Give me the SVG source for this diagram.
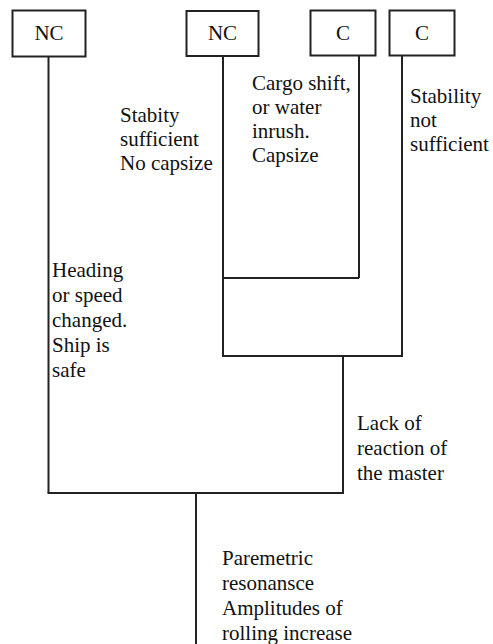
<svg xmlns="http://www.w3.org/2000/svg" width="493" height="644" viewBox="0 0 493 644">
<style>
.box{fill:#fff;stroke:#222;stroke-width:2}
.ln{fill:none;stroke:#222;stroke-width:2}
text{font-size:21px;fill:#111}
.c{text-anchor:middle}
</style>
<rect width="493" height="644" fill="#fff"/>
<g id="connectors">
<path class="ln" d="M48.5 57V493"/>
<path class="ln" d="M223 56V356"/>
<path class="ln" d="M359 55V278"/>
<path class="ln" d="M223 278H359"/>
<path class="ln" d="M402 55V356"/>
<path class="ln" d="M222 356H403"/>
<path class="ln" d="M343 356V493"/>
<path class="ln" d="M47.5 493H344"/>
<path class="ln" d="M196 493V644"/>
</g>
<g font-family="Liberation Serif, DejaVu Serif, Times New Roman, serif">
<g id="nc1"><rect class="box" x="12.5" y="10.5" width="73" height="46"/><text class="c" x="49" y="40">NC</text></g>
<g id="nc2"><rect class="box" x="186.5" y="11" width="72" height="45"/><text class="c" x="222.5" y="40">NC</text></g>
<g id="c1"><rect class="box" x="310.5" y="10.5" width="65" height="45"/><text class="c" x="343" y="40">C</text></g>
<g id="c2"><rect class="box" x="389.5" y="10.5" width="65" height="45"/><text class="c" x="422" y="40">C</text></g>
<g id="labels">
<text x="120" y="122">Stabity</text>
<text x="120" y="146">sufficient</text>
<text x="120" y="170">No capsize</text>
<text x="252" y="90">Cargo shift,</text>
<text x="252" y="114">or water</text>
<text x="252" y="138">inrush.</text>
<text x="252" y="162">Capsize</text>
<text x="410" y="103">Stability</text>
<text x="410" y="127">not</text>
<text x="410" y="151">sufficient</text>
<text x="52" y="277">Heading</text>
<text x="52" y="302">or speed</text>
<text x="52" y="327">changed.</text>
<text x="52" y="352">Ship is</text>
<text x="52" y="377">safe</text>
<text x="357" y="430">Lack of</text>
<text x="357" y="455">reaction of</text>
<text x="357" y="480">the master</text>
<text x="222" y="565">Paremetric</text>
<text x="222" y="590">resonansce</text>
<text x="222" y="615">Amplitudes of</text>
<text x="222" y="640">rolling increase</text>
</g>
</g>
</svg>
